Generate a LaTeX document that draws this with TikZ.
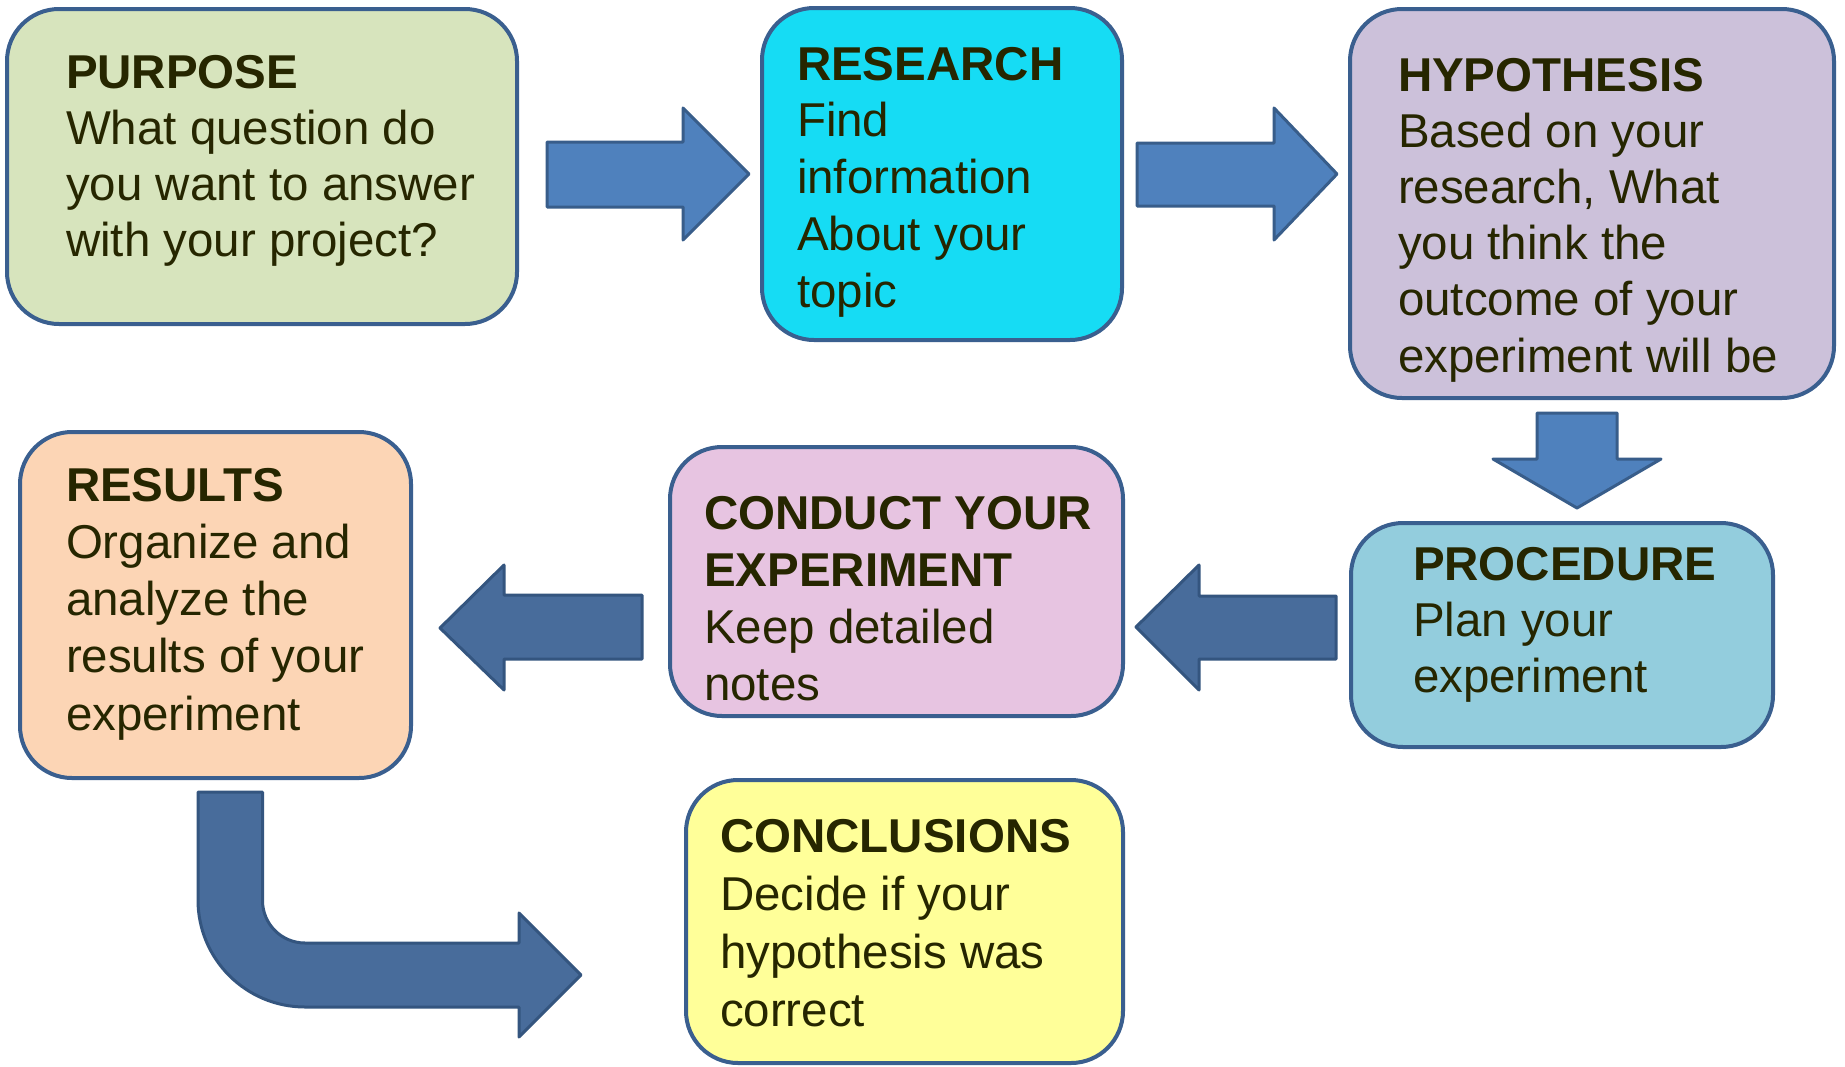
\documentclass[tikz,border=0pt]{standalone}
\usepackage{fontspec}
\setmainfont{Liberation Sans}
\definecolor{boxline}{HTML}{3A5F8F}
\definecolor{txtcol}{RGB}{38,38,0}
\definecolor{fpurpose}{HTML}{D7E4BD}
\definecolor{fresearch}{HTML}{16DCF4}
\definecolor{fhypo}{HTML}{CCC1DA}
\definecolor{fresults}{HTML}{FCD5B5}
\definecolor{fconduct}{HTML}{E7C4E1}
\definecolor{fproc}{HTML}{93CDDD}
\definecolor{fconcl}{HTML}{FFFF99}
\definecolor{arrowA}{HTML}{4F81BD}
\definecolor{arrowAline}{HTML}{385D8A}
\definecolor{arrowB}{HTML}{486C9B}
\definecolor{arrowBline}{HTML}{34557F}
\begin{document}
\begin{tikzpicture}[x=1pt,y=-1pt,
  box/.style={draw=boxline, line width=4pt, rounded corners=52pt, inner sep=0pt, outer sep=0pt},
  txt/.style={anchor=north west, inner sep=0pt, outer sep=0pt, align=left, text=txtcol,
              font=\fontsize{47.5}{#1}\selectfont},
  lightarrow/.style={fill=arrowA, draw=arrowAline, line width=3pt, line join=round},
  darkarrow/.style={fill=arrowB, draw=arrowBline, line width=3pt, line join=round}]
\fill[white] (0,0) rectangle (1845,1066);
\useasboundingbox (0,0) rectangle (1845,1066);

% boxes
\node[box, fill=fpurpose, minimum width=510pt, minimum height=315pt] (purpose) at (262,166.5) {};
\node[box, fill=fresearch, minimum width=360pt, minimum height=332pt] (research) at (942,174) {};
\node[box, fill=fhypo, minimum width=484pt, minimum height=389pt] (hypo) at (1592,203.5) {};
\node[box, fill=fresults, minimum width=391pt, minimum height=346pt] (results) at (215.5,605) {};
\node[box, fill=fconduct, minimum width=453pt, minimum height=269pt] (conduct) at (896.5,581.5) {};
\node[box, fill=fproc, minimum width=422pt, minimum height=224pt] (proc) at (1562,635) {};
\node[box, fill=fconcl, minimum width=437pt, minimum height=283pt] (concl) at (904.5,921.5) {};

% texts
\node[txt=56pt] (purposeT) at (66,48) {\rule{0pt}{40pt}\textbf{PURPOSE}\\What question do\\you want to answer\\with your project?};
\node[txt=56.75pt] (researchT) at (797,40) {\rule{0pt}{40pt}\textbf{RESEARCH}\\Find\\information\\About your\\topic};
\node[txt=56.2pt] (hypoT) at (1398,51) {\rule{0pt}{40pt}\textbf{HYPOTHESIS}\\Based on your\\research, What\\you think the\\outcome of your\\experiment will be};
\node[txt=57.25pt] (resultsT) at (66,461) {\rule{0pt}{40pt}\textbf{RESULTS}\\Organize and\\analyze the\\results of your\\experiment};
\node[txt=57pt] (conductT) at (704,489) {\rule{0pt}{40pt}\textbf{CONDUCT YOUR}\\\textbf{EXPERIMENT}\\Keep detailed\\notes};
\node[txt=56pt] (procT) at (1413,540) {\rule{0pt}{40pt}\textbf{PROCEDURE}\\Plan your\\experiment};
\node[txt=58pt] (conclT) at (720,812) {\rule{0pt}{40pt}\textbf{CONCLUSIONS}\\Decide if your\\hypothesis was\\correct};

% arrows
\draw[lightarrow] (547,142) -- (683,142) -- (683,108) -- (749,174) -- (683,240) -- (683,207) -- (547,207) -- cycle;
\draw[lightarrow] (1137,143) -- (1274,143) -- (1274,108) -- (1337,174) -- (1274,240) -- (1274,206) -- (1137,206) -- cycle;
\draw[lightarrow] (1537,413) -- (1617,413) -- (1617,459) -- (1661,459) -- (1577,508) -- (1493,459) -- (1537,459) -- cycle;
\draw[darkarrow] (1336,596) -- (1199,596) -- (1199,565) -- (1136,627) -- (1199,690) -- (1199,659) -- (1336,659) -- cycle;
\draw[darkarrow] (642,595) -- (504,595) -- (504,565) -- (440,628) -- (504,690) -- (504,659) -- (642,659) -- cycle;
\draw[darkarrow] (198,792) -- (198,900) arc[start angle=180, end angle=90, radius=107]
  -- (519,1007) -- (519,1037) -- (581,975) -- (519,913) -- (519,943) -- (305,943)
  arc[start angle=90, end angle=180, radius=42.5] -- (262.5,792) -- cycle;
\end{tikzpicture}
\end{document}
